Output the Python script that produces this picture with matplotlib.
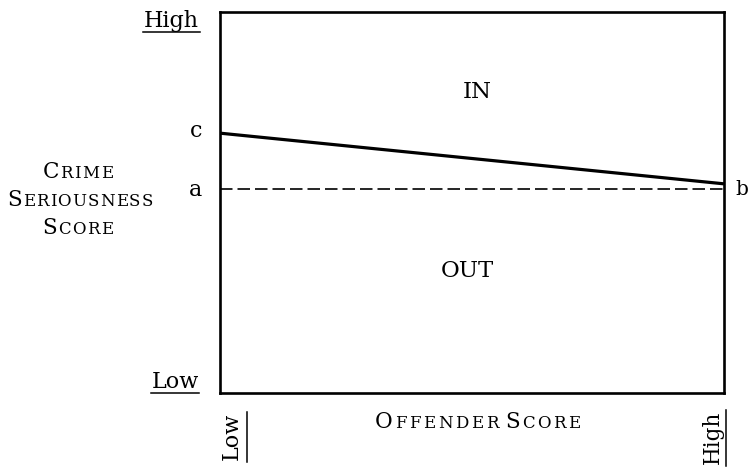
import matplotlib
matplotlib.use("Agg")
import matplotlib.pyplot as plt
from matplotlib.lines import Line2D

# === データ ===
offender = [0.0, 1.0]          # Low -> High
boundary = [0.682, 0.549]      # c -> b (IN / OUT の境界)
threshold = [0.535, 0.535]     # a (破線)

FONT = "DejaVu Serif"
W, H = 749, 468


def fx(px):
    return px / W


def fy(py):
    return 1 - py / H


fig = plt.figure(figsize=(W / 100, H / 100), dpi=100)
ax = fig.add_axes([fx(220), fy(393), 504 / W, 381 / H])
ax.set_xlim(0, 1)
ax.set_ylim(0, 1)
ax.set_xticks([])
ax.set_yticks([])
for s in ax.spines.values():
    s.set_linewidth(1.9)

ax.plot(offender, boundary, color="black", lw=2.3, solid_capstyle="butt")
ax.plot(offender, threshold, color="black", lw=1.2, dashes=(7.5, 3))

ax.text(0.51, 0.79, "IN", fontsize=16.5, family=FONT, ha="center", va="center")
ax.text(0.49, 0.32, "OUT", fontsize=16.5, family=FONT, ha="center", va="center")

# --- 軸まわりのラベル ---
fig.text(fx(196), fy(137), "c", fontsize=16, family=FONT, ha="center", va="baseline")
fig.text(fx(196), fy(196), "a", fontsize=16, family=FONT, ha="center", va="baseline")
fig.text(fx(735), fy(195), "b", fontsize=14.5, family=FONT, ha="left", va="baseline")

fig.text(fx(171), fy(27), "High", fontsize=16, family=FONT, ha="center", va="baseline")
fig.text(fx(175), fy(388), "Low", fontsize=16, family=FONT, ha="center", va="baseline")
fig.text(fx(232), fy(413), "Low", fontsize=16, family=FONT, ha="center", va="top", rotation=90)
fig.text(fx(713), fy(411), "High", fontsize=15.5, family=FONT, ha="center", va="top", rotation=90)

# 下線
for x0, x1, y0, y1 in [(143, 200, 32, 32), (151, 199, 393, 393),
                       (247, 247, 412, 462), (726, 726, 410, 466)]:
    fig.add_artist(Line2D([fx(x0), fx(x1)], [fy(y0), fy(y1)], color="black", lw=1.1))


# === スモールキャップス ===
def small_caps(text, cx, base, big, small, width):
    r = fig.canvas.get_renderer()
    items = []
    total = 0.0
    for i, word in enumerate(text.split()):
        if i:
            items.append((None, 0.0))
        for j, ch in enumerate(word):
            t = fig.text(0, fy(base), ch, fontsize=big if j == 0 else small,
                         family=FONT, ha="left", va="baseline")
            w = t.get_window_extent(r).width
            items.append((t, w))
            total += w
    gaps = len(items) - 1
    space_extra = small * 0.35
    track = (width - total - space_extra) / gaps
    x = cx - width / 2
    for t, w in items:
        if t is None:
            x += space_extra
            continue
        t.set_x(fx(x))
        x += w + track


small_caps("CRIME", 80, 178, 15.5, 12, 75)
small_caps("SERIOUSNESS", 82, 206, 15.5, 12, 150)
small_caps("SCORE", 80, 234, 15.5, 12, 75)
small_caps("OFFENDER SCORE", 479, 428, 15.5, 12, 208)

fig.savefig("out.png", dpi=100)
